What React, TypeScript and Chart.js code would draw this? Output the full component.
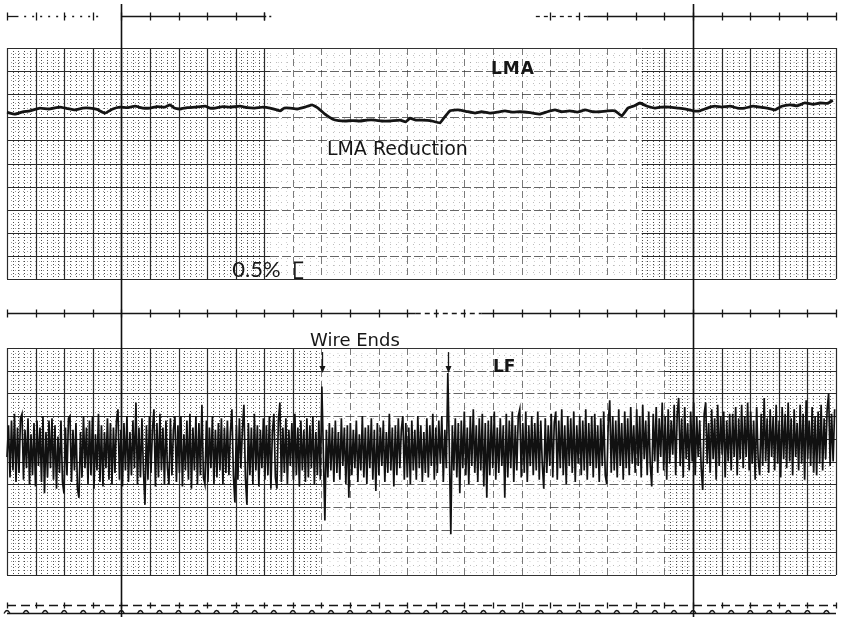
import React, { useEffect, useRef } from 'react';
import { Chart, registerables } from 'chart.js';
Chart.register(...registerables);

// ---- data (x in chart divisions, LMA in %, LF in divisions from trace centre)
const LMA_X = [0,0.28,0.55,0.8,1.15,1.45,1.85,2.1,2.38,2.65,2.9,3.15,3.43,3.7,3.95,4.2,4.48,4.75,5,5.25,5.53,5.7,5.85,6.05,6.3,6.58,6.93,7.1,7.28,7.55,7.8,8.15,8.4,8.67,8.95,9.2,9.55,9.7,9.9,10.15,10.42,10.67,10.88,11.12,11.4,11.6,11.82,12.1,12.35,12.6,12.87,13.1,13.4,13.75,13.95,14.1,14.3,14.52,14.8,15.15,15.3,15.5,15.77,16.05,16.37,16.6,16.89,17.15,17.42,17.7,17.94,18.3,18.64,18.9,19.17,19.4,19.69,19.95,20.22,20.5,20.74,21,21.27,21.51,21.72,21.95,22.14,22.4,22.67,22.9,23.19,23.45,23.71,24,24.24,24.5,24.76,25,25.29,25.55,25.81,26.1,26.34,26.6,26.86,27.1,27.39,27.65,27.91,28.2,28.44,28.7,28.89];
const LMA_Y = [3.61,3.57,3.62,3.64,3.7,3.68,3.72,3.69,3.66,3.7,3.7,3.67,3.59,3.68,3.72,3.71,3.74,3.7,3.7,3.73,3.72,3.77,3.7,3.68,3.71,3.72,3.74,3.7,3.7,3.73,3.72,3.74,3.71,3.7,3.72,3.7,3.64,3.7,3.7,3.68,3.72,3.77,3.7,3.57,3.46,3.43,3.42,3.43,3.42,3.44,3.44,3.42,3.42,3.44,3.4,3.48,3.44,3.44,3.43,3.38,3.5,3.64,3.66,3.63,3.59,3.62,3.59,3.61,3.64,3.61,3.62,3.6,3.57,3.62,3.66,3.62,3.64,3.61,3.66,3.62,3.62,3.64,3.64,3.53,3.7,3.75,3.81,3.74,3.7,3.72,3.72,3.7,3.68,3.64,3.64,3.7,3.74,3.72,3.74,3.7,3.7,3.74,3.72,3.7,3.66,3.74,3.77,3.75,3.81,3.78,3.81,3.8,3.87];

const LF_1 = [0.2,1.6,-0.7,1.8,-0.4,2.1,-0.9,1.5,-0.5,1.9,2.1,-0.8,1.4,-0.3,1.9,-1.0,1.2,-0.6,1.7,-1.1,1.8,-0.2,1.5,-0.9,2.0,-1.4,1.3,-0.7,1.8,-0.3,1.9,-0.8,1.6,-1.2,1.1,-0.5,1.8,-0.9,-1.4,1.5,-0.6,1.9,2.0,-0.9,1.4,-0.4,1.7,-1.2,-1.6,1.3,-0.7,2.0,-0.3,1.5,-1.0,1.8,-0.6,2.0,-1.2,1.2,-0.4,2.1,-0.9,1.6,-1.1,1.3,-0.3,1.9,-0.8,1.7];
const LF_2 = [-1.0,1.5,-0.5,1.8,2.3,-0.8,1.4,-1.1,1.7,-0.4,2.0,-0.9,1.3,-0.6,1.8,-0.3,2.6,-1.0,1.5,-0.7,1.9,-0.4,-1.9,1.6,-0.8,2.0,-0.5,1.4,2.3,-1.1,1.7,-0.7,2.1,-0.4,1.5,-1.0,1.8,-0.3,-1.0,1.9,-0.6,1.4,2.0,-0.9,1.6,-0.5,2.0,-1.1,1.2,-0.4,1.8,-0.8,2.1,-1.2,1.5,-0.4,2.0,-1.0,1.7,-0.6,2.5,-0.7,-1.0,1.8,-0.9,1.5,-0.3,2.0,-1.0,1.4];
const LF_3 = [-0.7,1.7,-0.4,1.9,-1.0,1.5,-0.5,1.8,-0.6,1.3,2.3,-0.6,-1.8,1.6,-0.8,1.9,-0.3,1.4,2.5,-0.7,-1.9,1.7,-0.6,1.5,-1.0,2.1,-0.4,1.6,-1.1,1.4,-0.3,1.9,-0.8,1.6,-0.6,2.0,-1.2,1.3,2.1,-0.7,-1.2,1.8,2.6,-0.9,1.5,-0.5,1.9,-1.0,1.4,-0.2,1.7,-0.8,2.1,-0.6,1.5,-1.1,1.8,-0.4,1.4,-0.9,1.9,-0.7,1.6,-0.3,2.0,-1.0,1.3,-0.6,1.8,-0.8];
const LF_4 = [3.3,0.4,-2.6,1.4,-0.7,1.7,-0.4,1.5,-0.9,1.8,-0.5,1.3,-0.8,1.9,-0.2,1.5,-1.0,1.6,-1.6,1.7,-0.6,1.4,-0.3,1.8,-0.9,1.2,-0.4,2.0,-0.7,1.5,-1.0,1.6,-0.3,1.9,-0.8,1.4,-1.3,1.7,-0.6,1.5,-0.2,1.8,-0.9,1.3,-0.5,2.1,-0.4,1.5,-1.1,1.6,-0.6,1.9,-0.3,1.4,2.0,-0.8,1.7,-0.7,1.5,-1.0,1.8,-0.4,1.4,-0.8,2.0,-0.3,1.6,-0.9,1.3,-0.5];
const LF_5 = [1.9,-0.7,1.6,-0.2,2.1,-0.8,1.5,-0.5,1.8,-0.1,2.0,-0.9,1.4,-0.3,3.9,0.6,-3.2,1.6,-0.4,1.9,-0.7,1.7,-1.4,1.8,-0.3,2.2,-0.6,1.5,-1.0,2.0,-0.2,2.3,-0.5,1.6,-0.9,1.9,-0.4,2.1,-1.1,1.7,-1.6,1.8,-0.6,2.0,-0.3,2.2,-0.8,1.5,-0.5,1.9,-0.2,1.6,-1.6,2.1,-0.7,1.8,-0.3,2.2,-0.9,1.6,-0.4,2.0,2.3,-0.7,1.7,-0.5,2.2,-0.9,1.6,-0.2];
const LF_6 = [2.0,-0.6,1.7,-0.4,2.2,-0.8,1.8,-0.1,-1.2,1.9,-0.5,1.6,-0.2,2.1,-0.7,1.7,2.2,-0.8,1.8,-0.3,2.3,-0.6,1.6,-1.0,2.0,-0.2,1.9,-0.5,2.2,-0.9,1.6,-0.1,2.0,-0.6,1.8,-0.4,2.3,-0.8,1.7,-0.2,2.0,-0.7,2.1,-0.3,1.6,-0.9,1.9,-0.2,2.2,-0.6,-1.0,1.7,2.7,-0.5,2.0,-0.4,1.8,-0.7,2.3,-0.2,1.7,-0.8,2.2,-0.3,1.9,-0.6,2.4,-0.1,1.6,-0.5];
const LF_7 = [2.3,-0.2,2.0,-0.7,2.5,0.1,1.8,-0.6,2.2,-0.1,-1.1,2.1,0.0,2.4,-0.5,1.9,0.2,2.6,-0.4,2.0,-0.8,2.3,-0.1,1.8,0.3,2.5,-0.6,2.1,2.8,-0.2,1.9,-0.7,2.4,0.1,1.7,-0.4,2.2,0.0,2.6,-0.6,2.0,0.2,1.8,-0.3,-1.25,2.1,2.6,-0.1,1.7,-0.5,2.3,0.1,1.9,-0.8,2.5,-0.2,2.0,0.3,2.2,-0.7,1.8,0.0,2.1,-0.4,2.1,0.2,2.4,-0.6,1.9,0.1];
const LF_8 = [2.5,-0.3,2.0,0.2,2.6,-0.4,2.2,-0.1,1.8,-0.8,2.4,0.1,-0.6,2.1,-0.2,2.8,0.0,1.9,-0.5,2.3,0.2,2.0,-0.4,2.5,-0.1,1.8,-0.7,2.4,0.1,2.1,-0.3,2.6,0.0,1.9,-0.6,2.3,0.2,1.7,-0.4,2.5,-0.1,2.1,-0.8,2.7,0.1,1.8,-0.2,2.4,-0.5,2.0,-0.6,2.2,-0.1,2.5,-0.4,1.9,0.1,2.3,3.0,-0.2,2.1,0.0,2.3];
const LF = [...LF_1, ...LF_2, ...LF_3, ...LF_4, ...LF_5, ...LF_6, ...LF_7, ...LF_8];
const LF_STEP = 0.05245; // sample interval, divisions

const ARROW_X = [11.02, 15.42];

// ---- geometry of the strip (scale ranges)
const X_MIN = -0.245, X_MAX = 29.28;
const TOP_MIN = -7.316, TOP_MAX = 6.039;
const BOT_MIN = -6.85, BOT_MAX = 20.33;

const INK = '#161616';

const stripPlugin = {
  id: 'strip',
  beforeDatasetsDraw(chart: any) {
    const { ctx, scales, chartArea } = chart;
    const sx = scales.x, yt = scales.yTop, yb = scales.yBot;
    const X = (v: number) => sx.getPixelForValue(v);
    ctx.save();
    ctx.fillStyle = '#fff';
    ctx.fillRect(0, 0, chart.width, chart.height);

    const line = (x1: number, y1: number, x2: number, y2: number, color: string, w: number, dash: number[]) => {
      ctx.beginPath();
      ctx.setLineDash(dash);
      ctx.strokeStyle = color;
      ctx.lineWidth = w;
      ctx.moveTo(x1, y1);
      ctx.lineTo(x2, y2);
      ctx.stroke();
    };

    const panel = (ys: any, lo: number, hi: number, major: number, denseL: number, denseR: number) => {
      const top = ys.getPixelForValue(hi), bot = ys.getPixelForValue(lo);
      const isDense = (v: number) => v < denseL || v > denseR;
      for (let k = 0; k <= 145; k++) {
        if (k % 5 === 0) continue;
        const v = k * 0.2;
        const px = Math.round(X(v)) + 0.5;
        if (isDense(v)) line(px, top, px, bot, 'rgba(30,30,30,0.8)', 1, [1, 2]);
        else line(px, top, px, bot, 'rgba(90,90,90,0.4)', 1, [1, 6]);
      }
      const nMaj = Math.round((hi - lo) / major);
      for (let k = 0; k <= nMaj * 5; k++) {
        if (k % 5 === 0) continue;
        const v = lo + k * major / 5;
        const py = Math.round(ys.getPixelForValue(v)) + 0.5;
        line(X(0), py, X(denseL), py, 'rgba(60,60,60,0.5)', 1, [1, 3]);
        line(X(denseL), py, X(denseR), py, 'rgba(90,90,90,0.28)', 1, [1, 7]);
        line(X(denseR), py, X(29), py, 'rgba(60,60,60,0.5)', 1, [1, 3]);
      }
      for (let k = 0; k <= 29; k++) {
        const px = Math.round(X(k)) + 0.5;
        if (isDense(k)) line(px, top, px, bot, '#2a2a2a', 1.2, []);
        else line(px, top, px, bot, 'rgba(50,50,50,0.65)', 1, [7, 4]);
      }
      for (let k = 0; k <= nMaj; k++) {
        const v = lo + k * major;
        const py = Math.round(ys.getPixelForValue(v)) + 0.5;
        const edge = k === 0 || k === nMaj;
        line(X(0), py, X(denseL), py, '#2a2a2a', 1.2, []);
        line(X(denseL), py, X(denseR), py, edge ? '#333' : 'rgba(50,50,50,0.75)', 1.1, edge ? [] : [9, 3]);
        line(X(denseR), py, X(29), py, '#2a2a2a', 1.2, []);
      }
    };

    panel(yt, 0, 5, 0.5, 9.2, 22.2);
    panel(yb, -5, 5, 1, 11, 23);

    const tickRow = (py: number, segs: [number, number, number[]][], tickLen: number) => {
      for (const [a, b, dash] of segs) {
        line(X(a), py, X(b), py, INK, 1.3, dash);
        for (let k = Math.ceil(a); k <= Math.floor(b); k++) {
          const px = Math.round(X(k)) + 0.5;
          line(px, py - tickLen, px, py + tickLen, INK, 1.3, []);
        }
      }
    };
    const rowTop = Math.round(yt.getPixelForValue(5.69)) + 0.5;
    tickRow(rowTop, [[0, 0.4, []], [0.6, 3.3, [2, 6]], [4, 9.0, []], [9.0, 9.3, [2, 3]], [18.5, 20.3, [4, 4]], [20.3, 29, []]], 4);
    const rowMid = Math.round(yb.getPixelForValue(6.54)) + 0.5;
    tickRow(rowMid, [[0, 14.3, []], [14.3, 16.6, [5, 4]], [16.6, 29, []]], 4);
    const rowBot = Math.round(yb.getPixelForValue(-6.32)) + 0.5;
    tickRow(rowBot, [[0, 29, [9, 5]]], 3);

    const pyB = Math.round(yb.getPixelForValue(-6.67)) + 0.5;
    line(X(0), pyB, X(29), pyB, INK, 1.4, []);
    ctx.setLineDash([]);
    ctx.lineWidth = 1.3;
    for (let k = 0; k <= 43; k++) {
      const px = X(k * (2 / 3));
      ctx.beginPath();
      ctx.moveTo(px - 3, pyB);
      ctx.quadraticCurveTo(px, pyB - 6, px + 3, pyB);
      ctx.stroke();
    }

    for (const v of [4, 24]) {
      const px = Math.round(X(v)) + 0.5;
      line(px, yt.getPixelForValue(5.95), px, chartArea.bottom, '#111', 1.6, []);
    }
    ctx.restore();
  },
  afterDatasetsDraw(chart: any) {
    const { ctx, scales } = chart;
    const sx = scales.x, yt = scales.yTop, yb = scales.yBot;
    const X = (v: number) => sx.getPixelForValue(v);
    ctx.save();
    ctx.fillStyle = INK;
    ctx.textBaseline = 'alphabetic';
    ctx.textAlign = 'left';
    ctx.font = '700 17px "DejaVu Sans"';
    (ctx as any).letterSpacing = '1px';
    ctx.fillText('LMA', X(16.93), yt.getPixelForValue(4.44));
    (ctx as any).letterSpacing = '0px';
    ctx.font = '400 19px "DejaVu Sans"';
    ctx.fillText('LMA Reduction', X(11.19), yt.getPixelForValue(2.68));
    ctx.font = '400 22px Lato';
    ctx.fillText('0.5%', X(7.88), yt.getPixelForValue(0.05));
    ctx.strokeStyle = INK;
    ctx.lineWidth = 1.6;
    ctx.setLineDash([]);
    const bx = X(10.07), bx2 = X(10.36);
    const b1 = yt.getPixelForValue(0.36), b2 = yt.getPixelForValue(0.02);
    ctx.beginPath();
    ctx.moveTo(bx2, b1); ctx.lineTo(bx, b1); ctx.lineTo(bx, b2); ctx.lineTo(bx2, b2);
    ctx.stroke();

    ctx.font = '400 18px "DejaVu Sans"';
    ctx.fillText('Wire Ends', X(10.6), yb.getPixelForValue(5.07));
    ctx.font = '700 17px "DejaVu Sans"';
    ctx.fillText('LF', X(17.0), yb.getPixelForValue(3.94));

    for (const v of ARROW_X) {
      const px = Math.round(X(v)) + 0.5;
      const a1 = yb.getPixelForValue(4.82), a2 = yb.getPixelForValue(3.9);
      ctx.beginPath();
      ctx.lineWidth = 1.3;
      ctx.moveTo(px, a1); ctx.lineTo(px, a2 - 5);
      ctx.stroke();
      ctx.beginPath();
      ctx.moveTo(px - 3, a2 - 7); ctx.lineTo(px + 3, a2 - 7); ctx.lineTo(px, a2);
      ctx.closePath();
      ctx.fill();
    }
    ctx.restore();
  },
};

export default function App() {
  const ref = useRef<HTMLCanvasElement | null>(null);
  useEffect(() => {
    if (!ref.current) return;
    const chart = new Chart(ref.current, {
      type: 'line',
      data: {
        datasets: [
          {
            label: 'LMA',
            data: LMA_X.map((x, i) => ({ x, y: LMA_Y[i] })),
            xAxisID: 'x',
            yAxisID: 'yTop',
            borderColor: '#141414',
            borderWidth: 2.8,
            pointRadius: 0,
            tension: 0.1,
          },
          {
            label: 'LF',
            data: LF.map((v, i) => ({ x: i * LF_STEP, y: v })),
            xAxisID: 'x',
            yAxisID: 'yBot',
            borderColor: '#111111',
            borderWidth: 1.7,
            borderJoinStyle: 'miter',
            pointRadius: 0,
            tension: 0,
          },
        ],
      },
      options: {
        animation: false,
        responsive: false,
        events: [],
        layout: { padding: 0 },
        plugins: { legend: { display: false }, tooltip: { enabled: false } },
        scales: {
          x: { type: 'linear', min: X_MIN, max: X_MAX, display: false },
          yTop: { type: 'linear', min: TOP_MIN, max: TOP_MAX, display: false },
          yBot: { type: 'linear', min: BOT_MIN, max: BOT_MAX, display: false },
        },
      },
      plugins: [stripPlugin],
    } as any);
    return () => chart.destroy();
  }, []);
  return (
    <div style={{ position: 'fixed', left: 0, top: 0, width: 844, height: 617, background: '#fff' }}>
      <canvas ref={ref} width={844} height={617} style={{ display: 'block' }} />
    </div>
  );
}
